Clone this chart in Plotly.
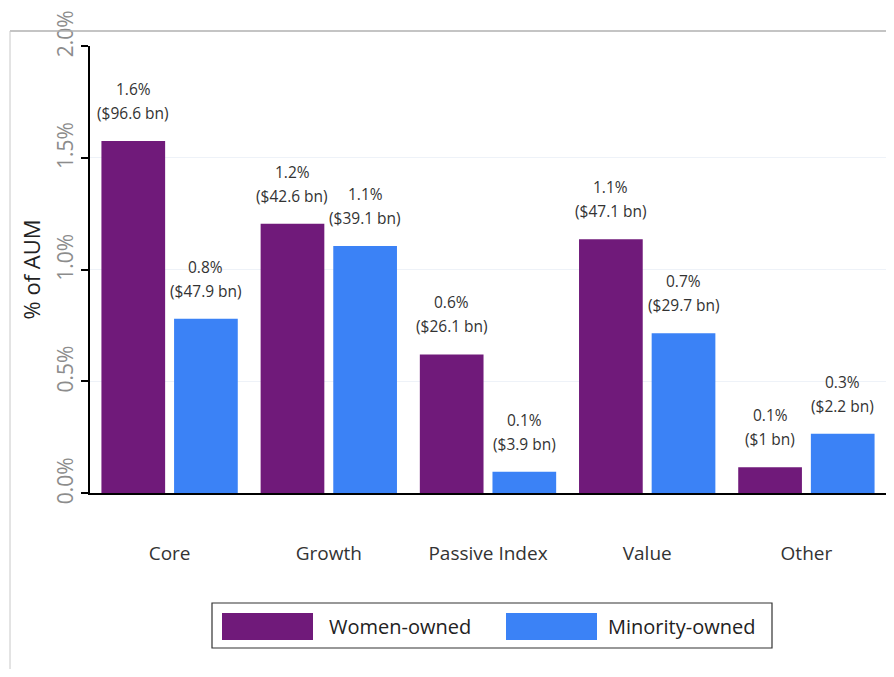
import plotly.graph_objects as go

categories = ["Core", "Growth", "Passive Index", "Value", "Other"]
women_pct = [1.575, 1.205, 0.62, 1.135, 0.115]
minority_pct = [0.78, 1.105, 0.095, 0.715, 0.265]
women_pct_labels = ["1.6%", "1.2%", "0.6%", "1.1%", "0.1%"]
women_amt_labels = ["($96.6 bn)", "($42.6 bn)", "($26.1 bn)", "($47.1 bn)", "($1 bn)"]
minority_pct_labels = ["0.8%", "1.1%", "0.1%", "0.7%", "0.3%"]
minority_amt_labels = ["($47.9 bn)", "($39.1 bn)", "($3.9 bn)", "($29.7 bn)", "($2.2 bn)"]
y_ticks = [0, 0.5, 1.0, 1.5, 2.0]
y_tick_labels = ["0.0%", "0.5%", "1.0%", "1.5%", "2.0%"]

PURPLE = "#701a7a"
BLUE = "#3b82f6"
FONT = "Open Sans"

# page body has an 8px margin; figure sized to fit the window
W, H = 878, 661
L, R, T, B = 82, 0, 38, 176
PW = W - L - R
PH = H - T - B


def px(xs):
    return (xs - 8 - L) / PW


def py(ys):
    return (T + PH - (ys - 8)) / PH


fig = go.Figure()
fig.add_trace(go.Bar(name="Women-owned", x=categories, y=women_pct, marker_color=PURPLE,
                     marker_line_width=0, showlegend=False))
fig.add_trace(go.Bar(name="Minority-owned", x=categories, y=minority_pct, marker_color=BLUE,
                     marker_line_width=0, showlegend=False))

half_slot = PW / len(categories) * (1 - 0.0875) / 4
lab_font = dict(family=FONT, size=15.5, color="#333")

annotations = []
for sign, vals, pcts, amts in [(-1, women_pct, women_pct_labels, women_amt_labels),
                               (1, minority_pct, minority_pct_labels, minority_amt_labels)]:
    for cat, v, p, a in zip(categories, vals, pcts, amts):
        annotations.append(dict(x=cat, y=v, text=a, xref="x", yref="y", showarrow=False,
                                xshift=sign * half_slot, yshift=15, yanchor="bottom", font=lab_font))
        annotations.append(dict(x=cat, y=v, text=p, xref="x", yref="y", showarrow=False,
                                xshift=sign * half_slot, yshift=39, yanchor="bottom", font=lab_font))

# custom legend
annotations.append(dict(x=px(327), y=py(626), xref="paper", yref="paper",
                        text="Women-owned", showarrow=False, xanchor="left", yanchor="middle",
                        font=dict(family=FONT, size=20, color="#222")))
annotations.append(dict(x=px(606), y=py(626), xref="paper", yref="paper",
                        text="Minority-owned", showarrow=False, xanchor="left", yanchor="middle",
                        font=dict(family=FONT, size=20, color="#222")))

shapes = [
    # outer frame
    dict(type="line", xref="paper", yref="paper", x0=px(10), x1=px(900), y0=py(31), y1=py(31),
         line=dict(color="#b0b0b0", width=1.5)),
    dict(type="line", xref="paper", yref="paper", x0=px(10), x1=px(10), y0=py(31), y1=py(690),
         line=dict(color="#c8c8c8", width=1)),
    # legend box
    dict(type="rect", xref="paper", yref="paper", x0=px(212), x1=px(772), y0=py(603), y1=py(648),
         line=dict(color="#333", width=1.2), fillcolor="rgba(0,0,0,0)"),
    dict(type="rect", xref="paper", yref="paper", x0=px(222), x1=px(313), y0=py(613), y1=py(640),
         line=dict(width=0), fillcolor=PURPLE),
    dict(type="rect", xref="paper", yref="paper", x0=px(506), x1=px(597), y0=py(613), y1=py(640),
         line=dict(width=0), fillcolor=BLUE),
]

fig.update_layout(
    width=W, height=H,
    margin=dict(l=L, r=R, t=T, b=B),
    paper_bgcolor="white", plot_bgcolor="white",
    barmode="group", bargap=0.0875, bargroupgap=0.123,
    annotations=annotations, shapes=shapes,
    font=dict(family=FONT),
    showlegend=False,
)
fig.update_xaxes(
    automargin=False,
    showline=True, linecolor="black", linewidth=1.5,
    ticks="", tickfont=dict(family=FONT, size=19, color="#333"),
    ticklabelstandoff=42, showgrid=False,
)
fig.update_yaxes(
    automargin=False,
    range=[0, 2.0], tickmode="array", tickvals=y_ticks, ticktext=y_tick_labels,
    tickangle=-90, tickfont=dict(family=FONT, size=21, color="#8c8c8c"),
    ticklabelshift=-9, ticklabeloverflow="allow",
    ticks="outside", ticklen=7, tickcolor="black", tickwidth=2,
    showline=True, linecolor="black", linewidth=2,
    showgrid=True, gridcolor="#eef2f8", gridwidth=1, zeroline=False,
    title=dict(text="% of AUM", font=dict(family=FONT, size=22, color="#222"), standoff=4),
)

fig.write_html("out.html")
